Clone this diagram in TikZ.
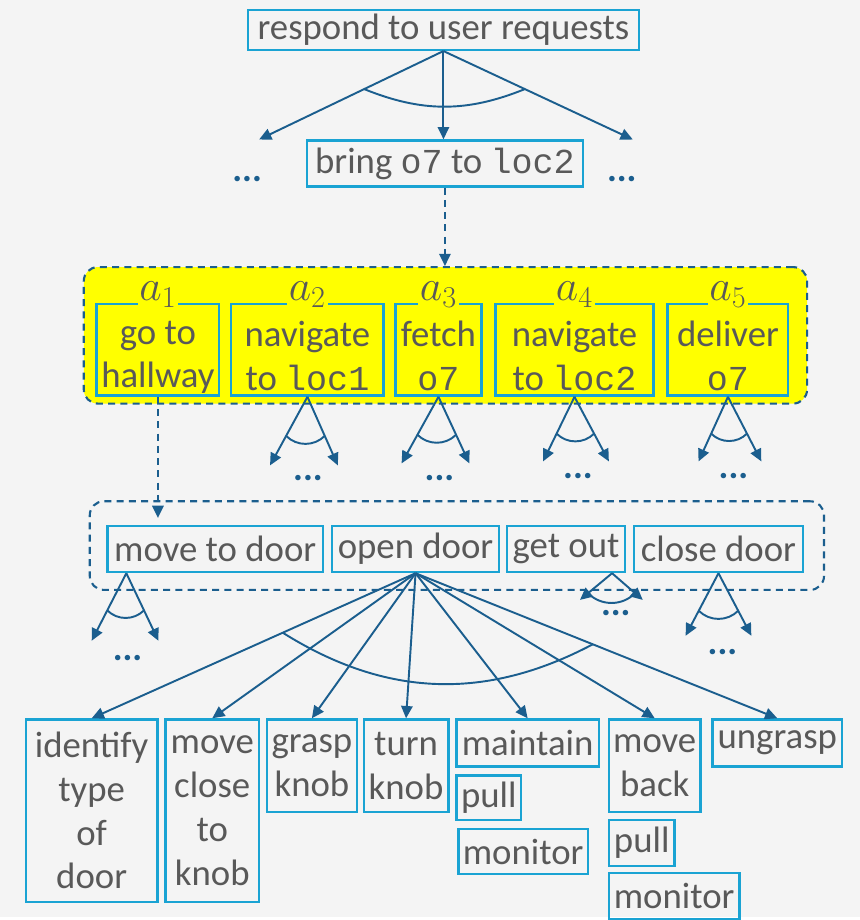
\documentclass[tikz,border=0pt]{standalone}
\usepackage{fontspec}
\setmainfont{Carlito}
\newfontfamily\codefont{Liberation Mono}
\usetikzlibrary{arrows.meta,calc}

\definecolor{bgcol}{HTML}{F4F4F4}
\definecolor{boxcol}{HTML}{1AA3D3}
\definecolor{arrcol}{HTML}{1B5E8E}
\definecolor{txtcol}{HTML}{595959}
\definecolor{hiyellow}{HTML}{FFFF00}

\newcommand{\code}[1]{{\codefont\fontsize{20}{25}\selectfont #1}}
\newcommand{\lowstrut}{\rule{0pt}{22pt}}

\begin{document}
\begin{tikzpicture}[x=0.02cm,y=-0.02cm,
  >={Triangle[length=7pt,width=6.5pt]},
  every node/.style={text=txtcol,font=\fontsize{21}{25}\selectfont},
  task/.style={draw=boxcol,line width=1.4pt,inner sep=0pt,align=center},
  group/.style={draw=arrcol,line width=1.2pt,dash pattern=on 4pt off 3pt,rounded corners=8pt},
  arr/.style={->,draw=arrcol,line width=1.1pt},
  dasharr/.style={arr,dash pattern=on 4pt off 3pt},
  andarc/.style={draw=arrcol,line width=1.1pt},
  dots/.style={text=arrcol,font=\fontsize{21}{25}\selectfont\bfseries,inner sep=1pt},
  alab/.style={fill=hiyellow,inner sep=1pt,font=\fontsize{24}{28}\selectfont}]

  \fill[bgcol] (0,0) rectangle (863,920);

  % goal and task
  \node[task,minimum width=7.84cm,minimum height=0.8cm] (respond) at (445,30) {respond to user requests};
  \node[task,minimum width=5.54cm,minimum height=0.92cm] (bring) at (446.5,164) {bring \code{o7} to \code{loc2}};
  \coordinate (tl) at (260,140);
  \coordinate (tr) at (635,140);
  \node[dots] (dl) at (248,180) {...};
  \node[dots] (dr) at (624,180) {...};
  \draw[arr] (respond.south) -- (respond.south |- bring.north);

  % the plan
  \node[group,fill=hiyellow,minimum width=14.52cm,minimum height=2.74cm] (plan) at (447,336.5) {};
  \node[task,minimum width=2.46cm,minimum height=1.84cm] (a1) at (158.5,351) {\lowstrut go to\\hallway};
  \node[task,minimum width=3.06cm,minimum height=1.84cm] (a2) at (308.5,351) {\lowstrut navigate\\to \code{loc1}};
  \node[task,minimum width=1.72cm,minimum height=1.84cm] (a3) at (440,351) {\lowstrut fetch\\\code{o7}};
  \node[task,minimum width=3.18cm,minimum height=1.84cm] (a4) at (576.5,351) {\lowstrut navigate\\to \code{loc2}};
  \node[task,minimum width=2.42cm,minimum height=1.84cm] (a5) at (730.5,351) {\lowstrut deliver\\\code{o7}};
  \foreach \i in {1,...,5}
    \node[alab] (la\i) at ($(a\i.north)+(0,-8)$) {$a_\i$};
  \draw[dasharr] (bring.south) -- (bring.south |- plan.north);

  \coordinate (l2) at (271,467); \coordinate (r2) at (339,467);
  \coordinate (l3) at (403,465); \coordinate (r3) at (471,465);
  \coordinate (l4) at (545,463); \coordinate (r4) at (611,463);
  \coordinate (l5) at (701,463); \coordinate (r5) at (764,463);
  \node[dots] (d2) at (309,480) {...};
  \node[dots] (d3) at (441,480) {...};
  \node[dots] (d4) at (580,478) {...};
  \node[dots] (d5) at (736,478) {...};

  % refinement of a1
  \node[group,minimum width=14.74cm,minimum height=1.78cm] (steps) at (458.5,547.5) {};
  \node[task,minimum width=4.32cm,minimum height=0.92cm] (movedoor) at (216,551) {move to door};
  \node[task,minimum width=3.36cm,minimum height=0.92cm] (opendoor) at (417,551) {open door};
  \node[task,minimum width=2.36cm,minimum height=0.92cm] (getout) at (568,551) {get out};
  \node[task,minimum width=3.4cm,minimum height=0.92cm] (closedoor) at (721,551) {close door};
  \draw[dasharr] (a1.south) -- ($(a1.south |- movedoor.north)+(0,-7)$);

  \coordinate (om) at ($(movedoor.south west)+(20,0)$);
  \coordinate (og) at ($(getout.south east)+(-14,0)$);
  \coordinate (lm) at (92,643);  \coordinate (rm) at (159,643);
  \coordinate (lg) at (582,602); \coordinate (rg) at (645,602);
  \coordinate (lc) at (688,638); \coordinate (rc) at (754,638);
  \node[dots] (dm) at (128,660) {...};
  \node[dots] (dg) at (618,615) {...};
  \node[dots] (dc) at (725,654) {...};

  \foreach \o/\l/\r/\f/\b in {respond.south/tl/tr/0.43/22, a2.south/l2/r2/0.57/45,
      a3.south/l3/r3/0.57/45, a4.south/l4/r4/0.57/45, a5.south/l5/r5/0.57/45,
      om/lm/rm/0.55/45, og/lg/rg/0.75/45, closedoor.south/lc/rc/0.6/45}
  {
    \draw[arr] (\o) -- (\l);
    \draw[arr] (\o) -- (\r);
    \draw[andarc] ($(\o)!\f!(\l)$) to[bend right=\b] ($(\o)!\f!(\r)$);
  }

  % refinement of open door
  \node[task,minimum width=2.64cm,minimum height=3.66cm] (identify) at (92,813.5) {identify\\type\\of\\door};
  \node[task,minimum width=1.88cm,minimum height=3.66cm] (moveclose) at (213,813.5) {move\\close\\to\\knob};
  \node[task,minimum width=1.8cm,minimum height=1.86cm] (grasp) at (313,768.5) {grasp\\knob};
  \node[task,minimum width=1.7cm,minimum height=1.86cm] (turn) at (407.5,768.5) {turn\\knob};
  \node[task,minimum width=2.86cm,minimum height=0.94cm] (maintain) at (529.5,745.5) {maintain};
  \node[task,minimum width=1.3cm,minimum height=0.9cm] (pullA) at (490.5,800.5) {pull};
  \node[task,minimum width=2.6cm,minimum height=0.9cm] (monitorA) at (525,854.5) {monitor};
  \node[task,minimum width=1.84cm,minimum height=1.86cm] (moveback) at (657,768.5) {move\\back};
  \node[task,minimum width=1.32cm,minimum height=0.92cm] (pullB) at (644,846) {pull};
  \node[task,minimum width=2.62cm,minimum height=0.92cm] (monitorB) at (676.5,899) {monitor};
  \node[task,minimum width=2.6cm,minimum height=0.94cm] (ungrasp) at (780,745.5) {ungrasp};

  \foreach \t in {identify,moveclose,grasp,turn,maintain,moveback,ungrasp}
    \draw[arr] (opendoor.south) -- (\t.north);
  \draw[andarc] ($(opendoor.south)!0.41!(identify.north)$) to[bend right=30] ($(opendoor.south)!0.49!(ungrasp.north)$);
\end{tikzpicture}
\end{document}
